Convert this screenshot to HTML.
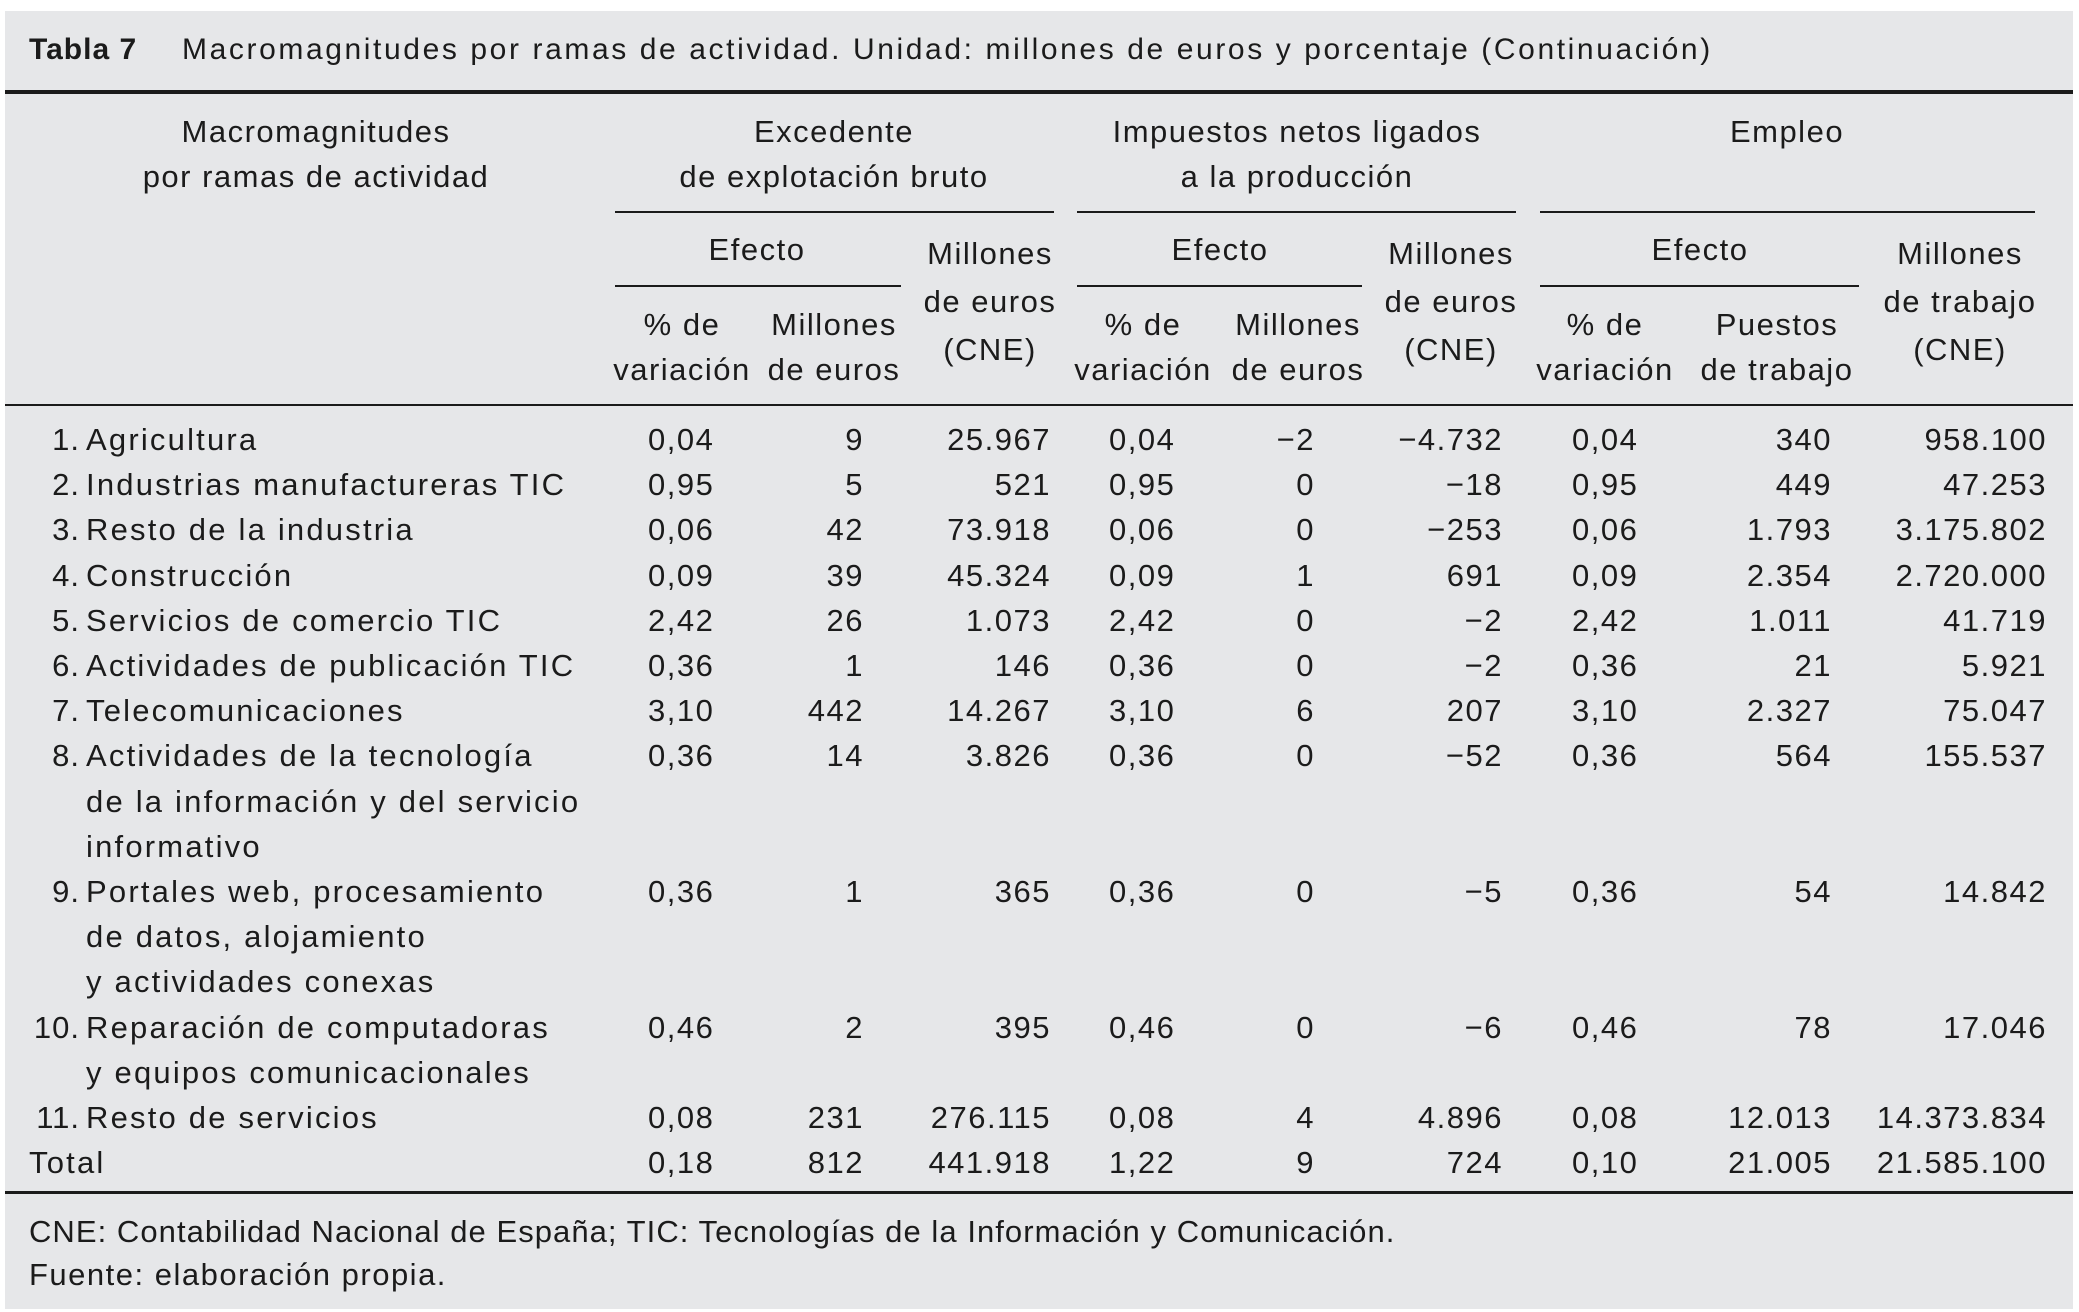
<!DOCTYPE html>
<html><head><meta charset="utf-8">
<style>
body{margin:0;width:2079px;height:1312px;background:#fff;position:relative;overflow:hidden;font-family:"Liberation Sans",sans-serif;color:#1b1b1b}
#panel{position:absolute;left:5px;top:11px;width:2068px;height:1298px;background:#e6e7e9}
.t{position:absolute;height:40px;line-height:40px;font-size:31px;white-space:nowrap;letter-spacing:1.5px}
.c{transform:translateX(-50%)}
.r{transform:translateX(-100%)}
.ln{position:absolute;background:#1b1b1b}
</style></head><body>
<div id="panel"></div>
<div class="t" style="left:29px;top:30px;font-size:30px;letter-spacing:1px"><b>Tabla 7</b></div>
<div class="t" style="left:182px;top:30px;font-size:30px;letter-spacing:2.6px">Macromagnitudes por ramas de actividad. Unidad: millones de euros y porcentaje (Continuación)</div>
<div class="ln" style="left:5px;top:90px;width:2068px;height:4px"></div>
<div class="ln" style="left:5px;top:404px;width:2068px;height:2px"></div>
<div class="ln" style="left:5px;top:1191px;width:2068px;height:3px"></div>
<div class="ln" style="left:615px;top:211px;width:439px;height:2px"></div>
<div class="ln" style="left:1077px;top:211px;width:439px;height:2px"></div>
<div class="ln" style="left:1540px;top:211px;width:495px;height:2px"></div>
<div class="ln" style="left:615px;top:285px;width:286px;height:2px"></div>
<div class="ln" style="left:1077px;top:285px;width:285px;height:2px"></div>
<div class="ln" style="left:1540px;top:285px;width:319px;height:2px"></div>

<div class="t c" style="left:316px;top:112px">Macromagnitudes</div>
<div class="t c" style="left:316px;top:157px">por ramas de actividad</div>
<div class="t c" style="left:834px;top:112px">Excedente</div>
<div class="t c" style="left:834px;top:157px">de explotación bruto</div>
<div class="t c" style="left:1297px;top:112px">Impuestos netos ligados</div>
<div class="t c" style="left:1297px;top:157px">a la producción</div>
<div class="t c" style="left:1787px;top:112px">Empleo</div>

<div class="t c" style="left:757px;top:230px">Efecto</div>
<div class="t c" style="left:1220px;top:230px">Efecto</div>
<div class="t c" style="left:1700px;top:230px">Efecto</div>

<div class="t c" style="left:990px;top:230px;line-height:48px;height:144px;text-align:center">Millones<br>de euros<br>(CNE)</div>
<div class="t c" style="left:1451px;top:230px;line-height:48px;height:144px;text-align:center">Millones<br>de euros<br>(CNE)</div>
<div class="t c" style="left:1960px;top:230px;line-height:48px;height:144px;text-align:center">Millones<br>de trabajo<br>(CNE)</div>

<div class="t c" style="left:682px;top:302px;line-height:45px;height:90px;text-align:center">% de<br>variación</div>
<div class="t c" style="left:834px;top:302px;line-height:45px;height:90px;text-align:center">Millones<br>de euros</div>
<div class="t c" style="left:1143px;top:302px;line-height:45px;height:90px;text-align:center">% de<br>variación</div>
<div class="t c" style="left:1298px;top:302px;line-height:45px;height:90px;text-align:center">Millones<br>de euros</div>
<div class="t c" style="left:1605px;top:302px;line-height:45px;height:90px;text-align:center">% de<br>variación</div>
<div class="t c" style="left:1777px;top:302px;line-height:45px;height:90px;text-align:center">Puestos<br>de trabajo</div>

<div class="t" style="left:29px;top:1212px;letter-spacing:1.05px">CNE: Contabilidad Nacional de España; TIC: Tecnologías de la Información y Comunicación.</div>
<div class="t" style="left:29px;top:1255px;letter-spacing:1.5px">Fuente: elaboración propia.</div>

<script>
const nums=["1.","2.","3.","4.","5.","6.","7.","8.","9.","10.","11.",""];
const labels=[["Agricultura"],["Industrias manufactureras TIC"],["Resto de la industria"],["Construcción"],["Servicios de comercio TIC"],["Actividades de publicación TIC"],["Telecomunicaciones"],["Actividades de la tecnología","de la información y del servicio","informativo"],["Portales web, procesamiento","de datos, alojamiento","y actividades conexas"],["Reparación de computadoras","y equipos comunicacionales"],["Resto de servicios"],["Total"]];
const pct1=["0,04","0,95","0,06","0,09","2,42","0,36","3,10","0,36","0,36","0,46","0,08","0,18"];
const mil1=["9","5","42","39","26","1","442","14","1","2","231","812"];
const cne1=["25.967","521","73.918","45.324","1.073","146","14.267","3.826","365","395","276.115","441.918"];
const pct2=["0,04","0,95","0,06","0,09","2,42","0,36","3,10","0,36","0,36","0,46","0,08","1,22"];
const mil2=["−2","0","0","1","0","0","6","0","0","0","4","9"];
const cne2=["−4.732","−18","−253","691","−2","−2","207","−52","−5","−6","4.896","724"];
const pct3=["0,04","0,95","0,06","0,09","2,42","0,36","3,10","0,36","0,36","0,46","0,08","0,10"];
const puestos=["340","449","1.793","2.354","1.011","21","2.327","564","54","78","12.013","21.005"];
const cne3=["958.100","47.253","3.175.802","2.720.000","41.719","5.921","75.047","155.537","14.842","17.046","14.373.834","21.585.100"];
const rowH=45.2;
function cell(txt,x,y,cls,name,ls){
  const d=document.createElement('div');
  d.className='t '+cls;
  d.style.left=x+'px';d.style.top=(y-20)+'px';
  if(ls)d.style.letterSpacing=ls;
  d.textContent=txt;
  
  
  document.body.appendChild(d);
}
let line=0;
for(let i=0;i<labels.length;i++){
  const y=440+line*rowH;
  if(i===11){cell(labels[i][0],29,y,'','row-label-total','2.2px');}
  else{
    cell(nums[i],80,y,'r','row-number','1px');
    labels[i].forEach((l,k)=>cell(l,86,y+k*rowH,'','row-label','2.2px'));
  }
  cell(pct1[i],648,y,'','pct-variacion-excedente');
  cell(mil1[i],864,y,'r','millones-excedente');
  cell(cne1[i],1051,y,'r','cne-excedente');
  cell(pct2[i],1109,y,'','pct-variacion-impuestos');
  cell(mil2[i],1315,y,'r','millones-impuestos');
  cell(cne2[i],1503,y,'r','cne-impuestos');
  cell(pct3[i],1572,y,'','pct-variacion-empleo');
  cell(puestos[i],1832,y,'r','puestos-trabajo');
  cell(cne3[i],2047,y,'r','cne-empleo');
  line+=Math.max(1,labels[i].length);
}
</script>
</body></html>
